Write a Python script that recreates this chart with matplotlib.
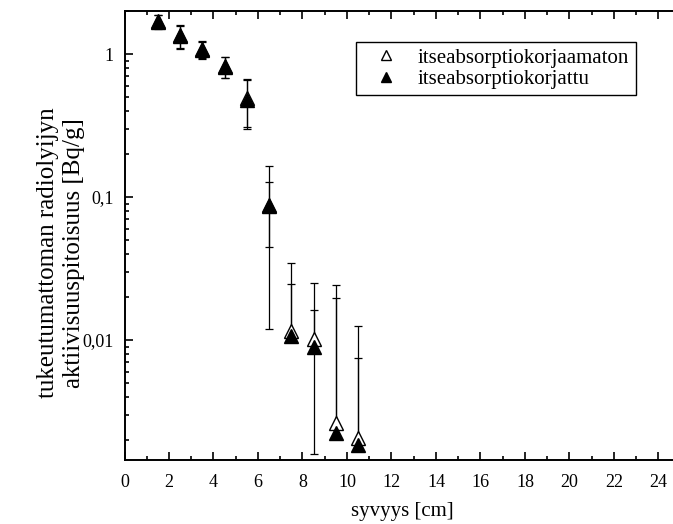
import numpy as np
import matplotlib
matplotlib.use("Agg")
import matplotlib.pyplot as plt
from matplotlib.ticker import FixedLocator, LogLocator, NullFormatter, MultipleLocator

plt.rcParams['font.family'] = ['Liberation Serif', 'DejaVu Serif']

# Depth (cm) of each slice midpoint
depth = [1.5, 2.5, 3.5, 4.5, 5.5, 6.5, 7.5, 8.5, 9.5, 10.5]

# Activity concentration without self-absorption correction
uncorr = [1.70, 1.35, 1.08, 0.82, 0.49, 0.088, 0.0116, 0.0102, 0.00265, 0.00205]
uncorr_err = [0.19, 0.25, 0.145, 0.135, 0.18, 0.076, 0.0232, 0.015, 0.0217, 0.0105]

# Activity concentration with self-absorption correction
corr = [1.68, 1.33, 1.065, 0.815, 0.48, 0.086, 0.0107, 0.0089, 0.00225, 0.00185]
corr_err = [0.19, 0.25, 0.145, 0.135, 0.18, 0.0415, 0.0139, 0.0073, 0.0174, 0.0056]

labels = ['itseabsorptiokorjaamaton', 'itseabsorptiokorjattu']
x_ticks = list(range(0, 25, 2))
y_ticks = [0.01, 0.1, 1]
y_ticklabels = ['0,01', '0,1', '1']

fig = plt.figure(figsize=(6.73, 5.24), dpi=100)
ax = fig.add_axes([124.5 / 673, 64 / 524, 556.2 / 673, 449 / 524])
ax.set_yscale('log')


def draw_errors(x, v, e, z):
    x = np.asarray(x)
    v = np.asarray(v)
    e = np.asarray(e)
    hi = v + e
    lo = v - e
    lo_ok = lo > 0
    ax.vlines(x, np.where(lo_ok, lo, v), hi, colors='black', lw=0.9, zorder=z)
    ax.plot(x, hi, ls='none', marker='_', ms=6, mew=0.9, color='black', zorder=z)
    ax.plot(x[lo_ok], lo[lo_ok], ls='none', marker='_', ms=6, mew=0.9,
            color='black', zorder=z)


draw_errors(depth, uncorr, uncorr_err, 2)
draw_errors(depth, corr, corr_err, 2)

ax.plot(depth, uncorr, ls='none', marker='^', ms=10.5, mfc='white', mec='black',
        mew=1.0, zorder=3, label=labels[0])
ax.plot(depth, corr, ls='none', marker='^', ms=10.5, mfc='black', mec='black',
        mew=1.0, zorder=4, label=labels[1])

ax.set_xlim(0, 25)
ax.set_ylim(0.00145, 2.0)

ax.xaxis.set_major_locator(FixedLocator(x_ticks))
ax.xaxis.set_minor_locator(MultipleLocator(1))
ax.set_xticklabels([str(t) for t in x_ticks])
ax.yaxis.set_major_locator(FixedLocator(y_ticks))
ax.set_yticklabels(y_ticklabels)
ax.yaxis.set_minor_locator(LogLocator(base=10, subs=np.arange(2, 10)))
ax.yaxis.set_minor_formatter(NullFormatter())

ax.tick_params(which='both', direction='in', top=True, right=True,
               labelsize=13, width=1.2, colors='black')
ax.tick_params(which='major', length=6)
ax.tick_params(which='minor', length=3.2)
ax.tick_params(axis='x', which='major', pad=10)
ax.tick_params(axis='y', which='major', pad=8)
for s in ax.spines.values():
    s.set_linewidth(1.4)

ax.set_xlabel('syvyys [cm]', fontsize=15, labelpad=8)
fig.text(61 / 673, 1 - 253 / 524,
         'tukeutumattoman radiolyijyn\naktiivisuuspitoisuus [Bq/g]',
         rotation=90, ha='center', va='center', multialignment='center',
         fontsize=18, linespacing=1.2)

leg = ax.legend(loc='upper left', bbox_to_anchor=(0.416, 0.9316),
                borderaxespad=0, fontsize=15, frameon=True, fancybox=False,
                edgecolor='black', framealpha=1, borderpad=0.3,
                handlelength=2.25, handletextpad=0.43, labelspacing=0.1,
                markerscale=0.72)
leg.get_frame().set_linewidth(1.0)

fig.savefig('out.png', dpi=100)
